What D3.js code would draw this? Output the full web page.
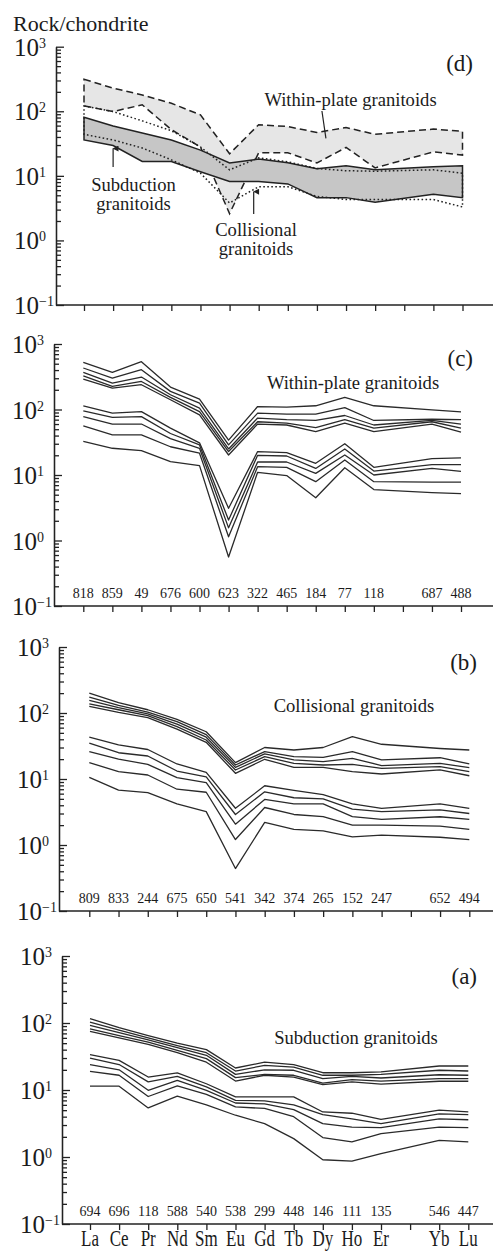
<!DOCTYPE html>
<html>
<head>
<meta charset="utf-8">
<script src="https://cdn.jsdelivr.net/npm/d3@7"></script>
<style>
  body { margin: 0; background: #fff; }
  svg { display: block; }
  text { font-family: "Liberation Serif", "Times New Roman", serif; fill: #1b1b1b; }
</style>
</head>
<body>
<svg id="chart" width="493" height="1253"></svg>
<script>
// x axis slots, Tm has a tick but no label and no data
const elements = ["La", "Ce", "Pr", "Nd", "Sm", "Eu", "Gd", "Tb", "Dy", "Ho", "Er", "Tm", "Yb", "Lu"]
const elementLabels = ["La", "Ce", "Pr", "Nd", "Sm", "Eu", "Gd", "Tb", "Dy", "Ho", "Er", "", "Yb", "Lu"]
const plotted = elements.filter(e => e !== "Tm")

// sample numbers written above the x axis
const samplesC = ["818", "859", "49", "676", "600", "623", "322", "465", "184", "77", "118", "", "687", "488"]
const samplesB = ["809", "833", "244", "675", "650", "541", "342", "374", "265", "152", "247", "", "652", "494"]
const samplesA = ["694", "696", "118", "588", "540", "538", "299", "448", "146", "111", "135", "", "546", "447"]

// (d) envelopes of the three groups
const withinMax = [313, 228, 179, 133, 88, 22, 62, 58, 47, 56, 44, 53, 49]
const withinMin = [121, 99, 126, 52, 28, 2.6, 22.8, 22.8, 15.8, 27.5, 13.3, 23.5, 21]
const subdMax = [81, 59, 46, 36, 25, 15.8, 18.2, 15.9, 12.9, 14.3, 12.4, 13.8, 14.3]
const subdMin = [36, 29.5, 16.7, 16.7, 11.6, 8.2, 8.2, 7.5, 4.6, 4.6, 3.9, 5.2, 4.6]
const collMax = [121, 99, 71, 50, 28, 12.4, 19, 16.5, 13, 12, 11.8, 12.4, 11]
const collMin = [44, 36, 27, 17.7, 11, 3.8, 6.8, 6.8, 4.8, 4.3, 4.3, 4.3, 3.3]

// (c) within-plate granitoids
const withinPlate = [
  [525, 368, 537, 220, 144, 34, 111, 109, 114, 153, 114, 99, 92],
  [430, 302, 405, 189, 125, 28.8, 88, 85, 85, 107, 68, 71, 70],
  [368, 253, 313, 168, 105, 25, 74, 70, 68, 81, 58, 68, 60],
  [327, 225, 268, 153, 93, 22.8, 65, 62, 53, 70, 52, 65, 52],
  [291, 212, 239, 141, 83, 20.2, 60, 58, 46, 62, 46, 60, 45],
  [114, 88, 93, 52, 31, 3.1, 22.8, 22, 15.1, 30, 13.1, 17.8, 18.2],
  [95, 76, 78, 43, 28.8, 2.05, 20, 19.5, 12.6, 25, 11.5, 14.4, 14.4],
  [78, 60, 60, 36, 25.6, 1.56, 15.8, 15.8, 10.6, 20.2, 10, 12.6, 11.4],
  [56, 41, 41, 27, 21.5, 1.14, 13.4, 13.1, 7.9, 17, 7.9, 7.8, 7.8],
  [32.7, 25.6, 23.6, 16, 13.9, 0.56, 11, 9.8, 4.5, 12.9, 6.0, 5.4, 5.2]
]

// (b) collisional granitoids
const collisional = [
  [200, 144, 112, 80, 52, 17.7, 30, 27.5, 30, 44, 33.6, 29, 27.5],
  [174, 130, 103, 74, 47, 16.3, 26, 21.8, 21.3, 26, 19.5, 21, 16.9],
  [155, 121, 97, 68, 43, 15, 24, 19.5, 18.3, 20.6, 16, 17.3, 14.9],
  [138, 112, 91, 62, 39, 13.7, 21.8, 17.3, 16.3, 16.6, 14.5, 15.4, 12.9],
  [126, 102, 85, 57, 36, 12.2, 19.9, 15, 15, 12.9, 11.9, 13.7, 11.2],
  [43, 32.8, 28, 16.9, 12.6, 3.6, 7.9, 6.7, 5.8, 4.2, 3.6, 4.2, 3.6],
  [35, 25, 22.3, 13.2, 10.8, 2.9, 6.4, 5.2, 5.0, 3.5, 3.2, 3.4, 3.0],
  [26, 20, 16.7, 10.5, 8.8, 2.07, 4.9, 4.2, 4.2, 2.7, 2.44, 2.68, 2.44],
  [17.7, 12.9, 11.5, 7.0, 6.3, 1.21, 3.7, 2.9, 2.7, 2.0, 2.0, 1.93, 1.72],
  [10.6, 6.8, 6.2, 4.2, 3.2, 0.44, 2.2, 1.72, 1.64, 1.33, 1.41, 1.31, 1.21]
]

// (a) subduction granitoids
const subduction = [
  [116, 85, 65, 50, 40, 21.3, 26, 24, 18.1, 18.1, 18.6, 22.8, 22.8],
  [103, 78, 60, 46, 36, 19.2, 23.3, 22, 16.6, 16.6, 17.1, 19.7, 19.2],
  [92, 72, 56, 43, 33, 17.1, 20, 19.7, 14.8, 16, 15.1, 16.9, 16.6],
  [82, 65, 52, 39, 29.4, 15.3, 17.1, 16.6, 12.7, 14.3, 13.6, 14.8, 14.8],
  [75, 60, 48, 36, 26, 13.6, 16.6, 15.6, 12, 13.2, 12.2, 13.5, 13.5],
  [33.6, 27.7, 15.6, 18, 12.4, 7.9, 7.9, 7.9, 4.7, 4.5, 3.65, 5.0, 4.7],
  [30, 24, 13.2, 16, 11.1, 7.0, 6.9, 6.0, 4.3, 3.7, 3.15, 4.4, 4.3],
  [24, 20, 9.9, 13.9, 9.9, 6.4, 6.2, 5.1, 3.15, 2.8, 2.74, 3.7, 3.6],
  [19, 16.6, 8.0, 11.5, 8.6, 5.6, 5.3, 4.0, 1.95, 1.68, 2.23, 2.8, 2.74],
  [11.4, 11.4, 5.4, 8.1, 6.0, 4.2, 3.15, 1.88, 0.91, 0.87, 1.12, 1.77, 1.68]
]

const W = 493
const INK = "#222"

const svg = d3.select("#chart")

svg.append("defs").append("marker")
  .attr("id", "arrow")
  .attr("viewBox", "0 0 10 10")
  .attr("refX", 5).attr("refY", 1)
  .attr("markerWidth", 5).attr("markerHeight", 7)
  .attr("orient", "auto-start-reverse")
  .append("path")
  .attr("d", "M0,10 L5,0 L10,10 Z")
  .attr("fill", INK)

/**
 * Builds the scales and axes of one panel.
 * @param {object} p The panel layout
 * @returns {object} the group and the scales
 */
function drawFrame (p) {
  const g = svg.append("g").attr("class", "panel-" + p.id)
  const x = d3.scalePoint().domain(elements).range([p.x0, p.x1])
  const y = d3.scaleLog().domain([0.1, 1000]).range([p.yBottom, p.yTop])

  const all = y.ticks()
  const major = all.filter(v => Math.abs(Math.log10(v) - Math.round(Math.log10(v))) < 1e-6)
  const minor = all.filter(v => !major.includes(v))

  g.append("g")
    .attr("transform", `translate(${p.axisX},0)`)
    .call(d3.axisRight(y).tickValues(minor).tickSize(5).tickSizeOuter(0).tickFormat(""))
  g.append("g")
    .attr("transform", `translate(${p.axisX},0)`)
    .call(d3.axisRight(y).tickValues(major).tickSize(8).tickSizeOuter(0).tickFormat(""))

  g.append("g")
    .attr("transform", `translate(0,${p.yBottom})`)
    .call(d3.axisBottom(x).tickSize(6).tickFormat(""))
    .call(a => a.select(".domain").remove())
  g.append("line")
    .attr("x1", p.axisX).attr("x2", W)
    .attr("y1", p.yBottom).attr("y2", p.yBottom)

  g.selectAll(".tick line, .domain, line").attr("stroke", INK).attr("stroke-width", 1.3)

  // 10^n labels
  const lab = g.selectAll(".ylab")
    .data(major)
    .enter()
    .append("text")
    .attr("class", "ylab")
    .attr("x", p.axisX - 42)
    .attr("y", d => y(d) + 9)
  lab.append("tspan").attr("font-size", 25).text("10")
  lab.append("tspan").attr("font-size", 14).attr("dy", -8)
    .text(d => { const e = Math.round(Math.log10(d)); return e < 0 ? "\u2212" + (-e) : e })

  g.append("text")
    .attr("x", p.letterX).attr("y", p.letterY)
    .attr("text-anchor", "end").attr("font-size", 23)
    .text("(" + p.id + ")")

  if (p.samples) {
    g.selectAll(".sample")
      .data(p.samples)
      .enter()
      .append("text")
      .attr("class", "sample")
      .attr("x", (d, i) => x(elements[i]))
      .attr("y", p.yBottom - 8)
      .attr("text-anchor", "middle")
      .attr("font-size", 14)
      .text(d => d)
  }
  if (p.title) {
    g.append("text")
      .attr("x", p.titleX).attr("y", p.titleY)
      .attr("text-anchor", "middle").attr("font-size", 18.6)
      .text(p.title)
  }
  return { g, x, y }
}

/**
 * Draws the individual sample patterns.
 */
function drawLines (frame, series) {
  const line = d3.line()
    .x((d, i) => frame.x(plotted[i]))
    .y(d => frame.y(d))
  frame.g.append("g")
    .selectAll("path")
    .data(series)
    .enter()
    .append("path")
    .attr("d", d => line(d))
    .attr("fill", "none")
    .attr("stroke", "#2a2a2a")
    .attr("stroke-width", 1.3)
    .attr("stroke-linejoin", "round")
}

const panelD = drawFrame({ id: "d", axisX: 56, yTop: 46.7, yBottom: 305, x0: 84, x1: 462.5, letterX: 473, letterY: 71 })
const panelC = drawFrame({ id: "c", axisX: 54, yTop: 344, yBottom: 606, x0: 83.3, x1: 461, letterX: 473, letterY: 366,
  samples: samplesC, title: "Within-plate granitoids", titleX: 353, titleY: 389 })
const panelB = drawFrame({ id: "b", axisX: 59, yTop: 647, yBottom: 911, x0: 89.3, x1: 469.3, letterX: 477, letterY: 670,
  samples: samplesB, title: "Collisional granitoids", titleX: 354, titleY: 712 })
const panelA = drawFrame({ id: "a", axisX: 62, yTop: 956, yBottom: 1224, x0: 90, x1: 468.3, letterX: 477, letterY: 984,
  samples: samplesA, title: "Subduction granitoids", titleX: 356, titleY: 1044 })

drawLines(panelC, withinPlate)
drawLines(panelB, collisional)
drawLines(panelA, subduction)

// element names under the lowest panel
panelA.g.selectAll(".elem")
  .data(elementLabels)
  .enter()
  .append("text")
  .attr("class", "elem")
  .attr("transform", (d, i) => `translate(${panelA.x(elements[i])},1246) scale(1,1.3)`)
  .attr("text-anchor", "middle")
  .attr("font-size", 17)
  .text(d => d)

// panel (d): the three envelopes
const band = d3.area()
  .x((d, i) => panelD.x(plotted[i]))
  .y0(d => panelD.y(d[0]))
  .y1(d => panelD.y(d[1]))

panelD.g.append("path")
  .attr("d", band(d3.zip(withinMin, withinMax)) + "")
  .attr("fill", "#e6e6e6")
  .attr("stroke", INK).attr("stroke-width", 1.5)
  .attr("stroke-dasharray", "7,4")

panelD.g.append("path")
  .attr("d", band(d3.zip(subdMin, subdMax)))
  .attr("fill", "#c6c6c6")
  .attr("stroke", INK).attr("stroke-width", 1.5)

panelD.g.append("path")
  .attr("d", band(d3.zip(collMin, collMax)))
  .attr("fill", "none")
  .attr("stroke", INK).attr("stroke-width", 1.5)
  .attr("stroke-dasharray", "1.6,2.4")

svg.append("text").attr("x", 13).attr("y", 31).attr("font-size", 22).text("Rock/chondrite")

const notes = [
  { lines: ["Within-plate granitoids"], x: 350.5, y: 106 },
  { lines: ["Subduction", "granitoids"], x: 133.5, y: 191 },
  { lines: ["Collisional", "granitoids"], x: 256, y: 236 }
]
notes.forEach(n => {
  n.lines.forEach((t, i) => {
    panelD.g.append("text")
      .attr("x", n.x).attr("y", n.y + i * 18.5)
      .attr("text-anchor", "middle").attr("font-size", 18.6)
      .text(t)
  })
})

// leader line and arrows
panelD.g.append("line")
  .attr("x1", panelD.x("Dy") + 5).attr("y1", 111)
  .attr("x2", panelD.x("Dy") + 9).attr("y2", panelD.y(withinMax[8]) + 6)
  .attr("stroke", INK).attr("stroke-width", 1.2)
panelD.g.append("line")
  .attr("x1", panelD.x("Ce")).attr("y1", 167)
  .attr("x2", panelD.x("Ce")).attr("y2", panelD.y(subdMin[1]) + 3)
  .attr("stroke", INK).attr("stroke-width", 1.2)
  .attr("marker-end", "url(#arrow)")
panelD.g.append("line")
  .attr("x1", panelD.x("Gd") - 5).attr("y1", 214)
  .attr("x2", panelD.x("Gd") - 5).attr("y2", panelD.y(collMin[6]) + 5)
  .attr("stroke", INK).attr("stroke-width", 1.2)
  .attr("marker-end", "url(#arrow)")
</script>
</body>
</html>
